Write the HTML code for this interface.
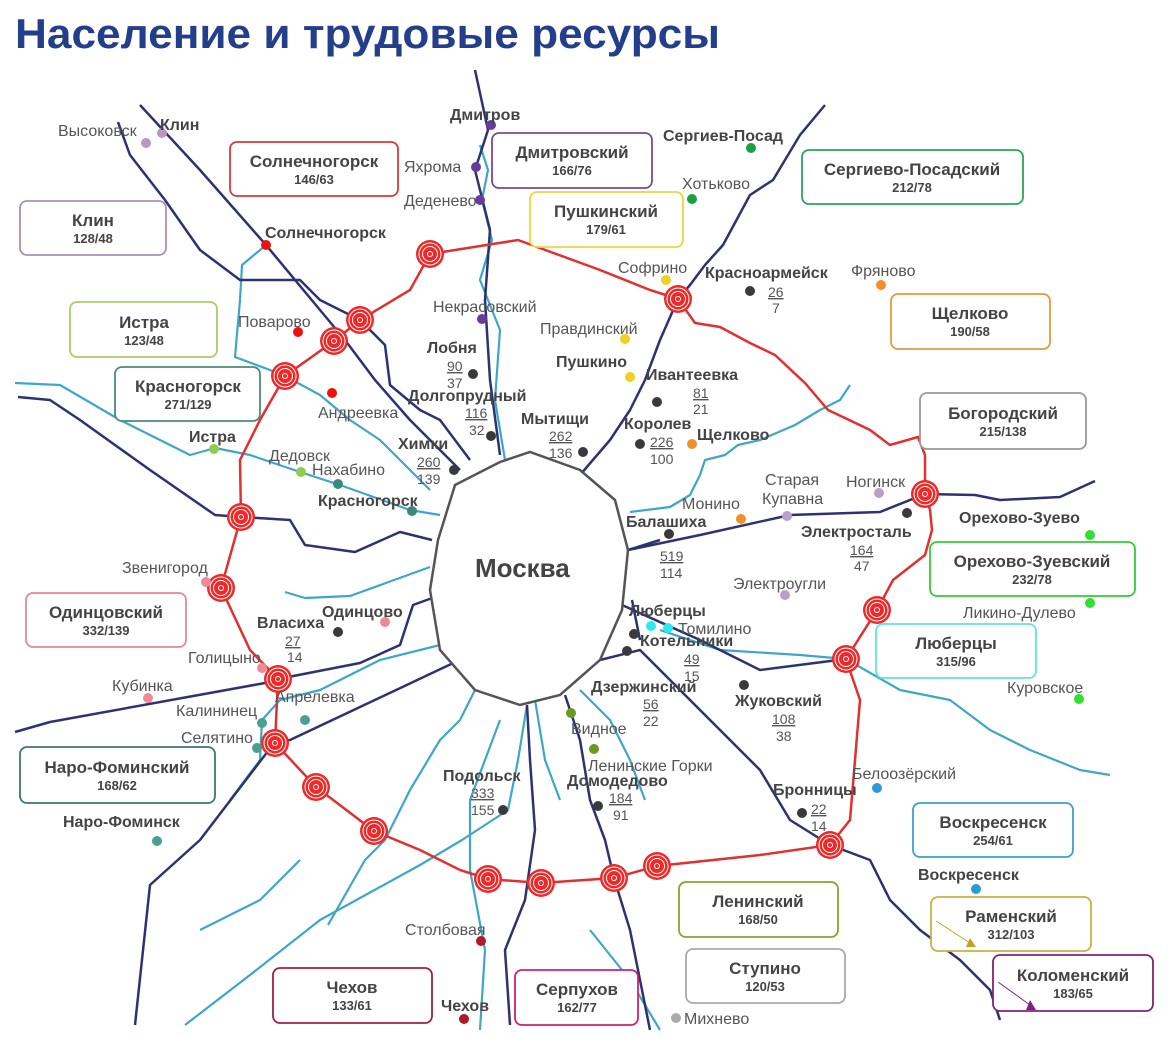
<!DOCTYPE html>
<html><head><meta charset="utf-8"><style>
html,body{margin:0;padding:0;background:#fff}
svg{display:block}
text{font-family:"Liberation Sans","DejaVu Sans",sans-serif}
.t{font-size:16px;fill:#555}
.b{font-size:16px;font-weight:bold;fill:#444}
.n{font-size:14px;fill:#555}
.bt{font-size:17px;font-weight:bold;fill:#444;text-anchor:middle}
.bn{font-size:13px;font-weight:bold;fill:#444;text-anchor:middle}
.r{fill:none;stroke:#2b3470;stroke-width:2.5;stroke-linejoin:round}
.w{fill:none;stroke:#3fa6c9;stroke-width:2.2;stroke-linejoin:round}
</style></head><body>
<svg width="1171" height="1038" viewBox="0 0 1171 1038" xmlns="http://www.w3.org/2000/svg">
<defs>
<g id="m"><circle r="14" fill="#f02828"/><circle r="11" fill="none" stroke="#fff" stroke-width="1"/><circle r="7.5" fill="none" stroke="#fff" stroke-width="1"/><circle r="3" fill="#fff"/><circle r="2" fill="#f02828"/></g>
</defs>
<text x="15" y="48" textLength="705" lengthAdjust="spacingAndGlyphs" style="font-size:42px;font-weight:bold;fill:#233f8b">Население и трудовые ресурсы</text>

<!-- rivers -->
<g class="w">
<path d="M480,145 L488,170 L482,200 L492,240 L480,280 L500,330 L495,400 L505,460"/>
<path d="M15,383 L60,385 L120,420 L190,455 L215,448 L250,455 L300,472 L340,485 L410,510 L440,515"/>
<path d="M266,245 L242,265 L240,300 L235,357 L270,370 L285,376 L320,395 L350,420 L380,440 L410,470 L430,490"/>
<path d="M285,592 L305,598 L350,596 L430,567"/>
<path d="M850,385 L840,400 L820,410 L795,425 L760,440 L738,445 L725,455 L705,460 L700,475 L690,495 L670,507 L630,512"/>
<path d="M660,630 L720,650 L800,655 L846,659 L900,690 L950,700 L990,730 L1030,750 L1080,770 L1110,775"/>
<path d="M580,690 L610,720 L630,760 L645,800"/>
<path d="M535,700 L545,760 L560,800"/>
<path d="M480,680 L460,720 L440,740 L410,790 L385,840 L365,860 L328,925"/>
<path d="M527,705 L518,760 L508,810 L462,840 L420,865 L320,920 L250,975 L185,1025"/>
<path d="M440,645 L380,660 L320,690 L280,700 L262,720 L260,760 L230,800"/>
<path d="M500,720 L470,800 L470,870 L485,950 L480,1030"/>
<path d="M590,930 L630,980 L660,1030"/>
<path d="M200,930 L260,900 L300,860"/>
</g>
<!-- rails -->
<g class="r">
<path d="M140,105 L200,170 L266,245 L320,310 L345,340 L375,380 L410,420 L440,450 L460,470"/>
<path d="M118,122 L130,155 L165,200 L200,250 L240,280 L300,280 L320,300 L360,320 L385,345 L390,385 L420,410 L440,420 L470,460"/>
<path d="M475,70 L488,130 L475,170 L490,230 L485,300 L490,380 L500,455"/>
<path d="M825,105 L800,135 L773,180 L750,195 L723,245 L705,265 L690,285 L678,299 L660,340 L645,380 L630,410 L610,440 L580,475"/>
<path d="M628,550 L700,535 L790,515 L880,512 L925,494 L975,495 L1000,500 L1060,497 L1095,481"/>
<path d="M622,605 L700,640 L760,670 L846,659"/>
<path d="M600,660 L640,650 L680,690 L720,730 L760,770 L790,820 L830,845 L870,860 L890,900 L920,930 L960,960 L990,990 L1000,1020"/>
<path d="M565,695 L580,740 L590,800 L605,840 L614,878 L630,930 L640,980 L650,1030"/>
<path d="M527,705 L530,760 L535,830 L525,900 L505,950 L510,1025"/>
<path d="M466,657 L290,740 L275,743 L265,755 L200,840 L150,885 L135,1025"/>
<path d="M15,732 L50,722 L265,683 L278,679 L360,663 L400,645 L413,605 L435,597"/>
<path d="M18,397 L50,400 L80,420 L150,470 L215,515 L241,517 L290,520 L305,545 L355,552 L400,532 L432,540"/>
<path d="M628,550 L660,540"/>
<path d="M640,640 L632,600"/>
</g>
<!-- ring -->
<path d="M430,254 L518,240 L600,270 L650,290 L678,299 L695,323 L720,327 L750,343 L775,355 L805,383 L828,410 L845,418 L870,430 L890,445 L918,437 L925,455 L925,494 L930,510 L932,530 L925,555 L893,580 L877,610 L846,659 L860,700 L855,760 L850,820 L830,845 L760,855 L657,866 L614,878 L541,883 L488,879 L460,870 L420,850 L374,831 L316,787 L275,743 L278,679 L250,650 L221,588 L241,517 L240,460 L260,420 L285,376 L334,341 L360,320 L410,290 Z" fill="none" stroke="#e03030" stroke-width="2.5"/>
<g>
<use href="#m" x="430" y="254"/><use href="#m" x="360" y="320"/><use href="#m" x="334" y="341"/><use href="#m" x="285" y="376"/>
<use href="#m" x="241" y="517"/><use href="#m" x="221" y="588"/><use href="#m" x="278" y="679"/><use href="#m" x="275" y="743"/>
<use href="#m" x="316" y="787"/><use href="#m" x="374" y="831"/><use href="#m" x="488" y="879"/><use href="#m" x="541" y="883"/>
<use href="#m" x="614" y="878"/><use href="#m" x="657" y="866"/><use href="#m" x="830" y="845"/><use href="#m" x="846" y="659"/>
<use href="#m" x="877" y="610"/><use href="#m" x="925" y="494"/><use href="#m" x="678" y="299"/>
</g>
<!-- Moscow -->
<path d="M500,462 L530,452 L580,470 L615,500 L628,550 L622,610 L600,660 L560,695 L520,705 L475,690 L440,650 L430,590 L438,540 L455,485 Z" fill="#fff" stroke="#555" stroke-width="2.5"/>
<text x="475" y="577" style="font-size:26px;font-weight:bold;fill:#444">Москва</text>

<!-- boxes -->
<g fill="#fff" stroke-width="1.8">
<rect x="230" y="142" width="168" height="54" rx="7" stroke="#d83a3a"/>
<rect x="20" y="201" width="146" height="54" rx="7" stroke="#a890b8"/>
<rect x="492" y="133" width="160" height="55" rx="7" stroke="#7b4a8c"/>
<rect x="530" y="192" width="153" height="55" rx="7" stroke="#e8d640"/>
<rect x="802" y="150" width="221" height="54" rx="7" stroke="#2aa55a"/>
<rect x="70" y="302" width="147" height="55" rx="7" stroke="#a8cc6c"/>
<rect x="115" y="367" width="145" height="54" rx="7" stroke="#4a8c7c"/>
<rect x="891" y="294" width="159" height="55" rx="7" stroke="#e39a3a"/>
<rect x="920" y="393" width="166" height="56" rx="7" stroke="#999"/>
<rect x="930" y="542" width="205" height="54" rx="7" stroke="#33cc33"/>
<rect x="26" y="593" width="160" height="54" rx="7" stroke="#e08a9a"/>
<rect x="876" y="624" width="160" height="54" rx="7" stroke="#66e0e8"/>
<rect x="20" y="747" width="195" height="56" rx="7" stroke="#3a7a6a"/>
<rect x="913" y="803" width="160" height="54" rx="7" stroke="#3aa0d0"/>
<rect x="679" y="882" width="159" height="55" rx="7" stroke="#8aa030"/>
<rect x="931" y="897" width="160" height="54" rx="7" stroke="#c8b040"/>
<rect x="686" y="949" width="159" height="54" rx="7" stroke="#aaa"/>
<rect x="993" y="955" width="160" height="56" rx="7" stroke="#802080"/>
<rect x="273" y="968" width="159" height="55" rx="7" stroke="#a02040"/>
<rect x="515" y="970" width="123" height="55" rx="7" stroke="#d02070"/>
</g>
<g>
<text class="bt" x="314" y="167">Солнечногорск</text><text class="bn" x="314" y="184">146/63</text>
<text class="bt" x="93" y="226">Клин</text><text class="bn" x="93" y="243">128/48</text>
<text class="bt" x="572" y="158">Дмитровский</text><text class="bn" x="572" y="175">166/76</text>
<text class="bt" x="606" y="217">Пушкинский</text><text class="bn" x="606" y="234">179/61</text>
<text class="bt" x="912" y="175">Сергиево-Посадский</text><text class="bn" x="912" y="192">212/78</text>
<text class="bt" x="144" y="328">Истра</text><text class="bn" x="144" y="345">123/48</text>
<text class="bt" x="188" y="392">Красногорск</text><text class="bn" x="188" y="409">271/129</text>
<text class="bt" x="970" y="319">Щелково</text><text class="bn" x="970" y="336">190/58</text>
<text class="bt" x="1003" y="419">Богородский</text><text class="bn" x="1003" y="436">215/138</text>
<text class="bt" x="1032" y="567">Орехово-Зуевский</text><text class="bn" x="1032" y="584">232/78</text>
<text class="bt" x="106" y="618">Одинцовский</text><text class="bn" x="106" y="635">332/139</text>
<text class="bt" x="956" y="649">Люберцы</text><text class="bn" x="956" y="666">315/96</text>
<text class="bt" x="117" y="773">Наро-Фоминский</text><text class="bn" x="117" y="790">168/62</text>
<text class="bt" x="993" y="828">Воскресенск</text><text class="bn" x="993" y="845">254/61</text>
<text class="bt" x="758" y="907">Ленинский</text><text class="bn" x="758" y="924">168/50</text>
<text class="bt" x="1011" y="922">Раменский</text><text class="bn" x="1011" y="939">312/103</text>
<text class="bt" x="765" y="974">Ступино</text><text class="bn" x="765" y="991">120/53</text>
<text class="bt" x="1073" y="981">Коломенский</text><text class="bn" x="1073" y="998">183/65</text>
<text class="bt" x="352" y="993">Чехов</text><text class="bn" x="352" y="1010">133/61</text>
<text class="bt" x="577" y="995">Серпухов</text><text class="bn" x="577" y="1012">162/77</text>
</g>
<line x1="936" y1="921" x2="970" y2="943" stroke="#c8a020" stroke-width="1"/><path d="M966,947 L976,947 L970,938 Z" fill="#c8a020"/>
<line x1="998" y1="982" x2="1030" y2="1005" stroke="#802080" stroke-width="1"/><path d="M1026,1010 L1036,1010 L1030,1000 Z" fill="#802080"/>

<!-- dots -->
<g>
<circle cx="146" cy="143" r="5" fill="#b898c0"/><circle cx="162" cy="133" r="5" fill="#b898c0"/>
<circle cx="491" cy="125" r="5" fill="#6a3a9a"/><circle cx="476" cy="167" r="5" fill="#6a3a9a"/><circle cx="480" cy="200" r="5" fill="#6a3a9a"/><circle cx="482" cy="319" r="5" fill="#6a3a9a"/>
<circle cx="751" cy="148" r="5" fill="#1aa040"/><circle cx="692" cy="199" r="5" fill="#1aa040"/>
<circle cx="666" cy="280" r="5" fill="#f0d020"/><circle cx="625" cy="339" r="5" fill="#f0d020"/><circle cx="630" cy="377" r="5" fill="#f0d020"/>
<circle cx="881" cy="285" r="5" fill="#f0902a"/><circle cx="692" cy="444" r="5" fill="#f0902a"/><circle cx="741" cy="519" r="5" fill="#f0902a"/>
<circle cx="266" cy="245" r="5" fill="#f01010"/><circle cx="298" cy="332" r="5" fill="#f01010"/><circle cx="332" cy="393" r="5" fill="#f01010"/>
<circle cx="214" cy="449" r="5" fill="#90cc50"/><circle cx="301" cy="472" r="5" fill="#90cc50"/>
<circle cx="338" cy="484" r="5" fill="#3a8a7a"/><circle cx="412" cy="511" r="5" fill="#3a8a7a"/>
<circle cx="305" cy="720" r="5" fill="#4aa090"/><circle cx="262" cy="723" r="5" fill="#4aa090"/><circle cx="257" cy="748" r="5" fill="#4aa090"/><circle cx="157" cy="841" r="5" fill="#4aa090"/>
<circle cx="206" cy="582" r="5" fill="#f08898"/><circle cx="262" cy="668" r="5" fill="#f08898"/><circle cx="148" cy="698" r="5" fill="#f08898"/><circle cx="385" cy="622" r="5" fill="#f08898"/>
<circle cx="787" cy="516" r="5" fill="#b8a0c8"/><circle cx="879" cy="493" r="5" fill="#b8a0c8"/><circle cx="785" cy="595" r="5" fill="#b8a0c8"/>
<circle cx="1090" cy="535" r="5" fill="#30e030"/><circle cx="1090" cy="603" r="5" fill="#30e030"/><circle cx="1079" cy="699" r="5" fill="#30e030"/>
<circle cx="651" cy="626" r="5" fill="#30e8f0"/><circle cx="668" cy="628" r="5" fill="#30e8f0"/>
<circle cx="571" cy="713" r="5" fill="#6a9a20"/><circle cx="594" cy="749" r="5" fill="#6a9a20"/>
<circle cx="877" cy="788" r="5" fill="#2a9ad8"/><circle cx="976" cy="889" r="5" fill="#2a9ad8"/>
<circle cx="481" cy="941" r="5" fill="#b01830"/><circle cx="464" cy="1019" r="5" fill="#b01830"/>
<circle cx="676" cy="1018" r="5" fill="#aaa"/>
<g fill="#3a3a3a">
<circle cx="473" cy="374" r="5"/><circle cx="491" cy="436" r="5"/><circle cx="454" cy="470" r="5"/><circle cx="583" cy="452" r="5"/>
<circle cx="640" cy="444" r="5"/><circle cx="657" cy="402" r="5"/><circle cx="750" cy="291" r="5"/><circle cx="669" cy="534" r="5"/>
<circle cx="634" cy="634" r="5"/><circle cx="627" cy="651" r="5"/><circle cx="744" cy="685" r="5"/><circle cx="802" cy="813" r="5"/>
<circle cx="503" cy="810" r="5"/><circle cx="598" cy="806" r="5"/><circle cx="338" cy="632" r="5"/><circle cx="907" cy="513" r="5"/>
</g>
</g>

<!-- labels -->
<g>
<text class="b" x="160" y="130">Клин</text>
<text class="t" x="58" y="136">Высоковск</text>
<text class="b" x="450" y="120">Дмитров</text>
<text class="t" x="404" y="172">Яхрома</text>
<text class="t" x="404" y="206">Деденево</text>
<text class="b" x="663" y="141">Сергиев-Посад</text>
<text class="t" x="682" y="189">Хотьково</text>
<text class="b" x="265" y="238">Солнечногорск</text>
<text class="t" x="618" y="273">Софрино</text>
<text class="b" x="705" y="278">Красноармейск</text>
<text class="t" x="851" y="276">Фряново</text>
<text class="n" x="768" y="297" text-decoration="underline">26</text><text class="n" x="772" y="313">7</text>
<text class="t" x="433" y="312">Некрасовский</text>
<text class="t" x="238" y="327">Поварово</text>
<text class="t" x="540" y="334">Правдинский</text>
<text class="b" x="427" y="353">Лобня</text>
<text class="n" x="447" y="371" text-decoration="underline">90</text><text class="n" x="447" y="388">37</text>
<text class="b" x="556" y="367">Пушкино</text>
<text class="b" x="646" y="380">Ивантеевка</text>
<text class="n" x="693" y="398" text-decoration="underline">81</text><text class="n" x="693" y="414">21</text>
<text class="b" x="408" y="401">Долгопрудный</text>
<text class="n" x="465" y="418" text-decoration="underline">116</text><text class="n" x="469" y="435">32</text>
<text class="t" x="318" y="418">Андреевка</text>
<text class="b" x="521" y="424">Мытищи</text>
<text class="n" x="549" y="441" text-decoration="underline">262</text><text class="n" x="549" y="458">136</text>
<text class="b" x="624" y="429">Королев</text>
<text class="n" x="650" y="447" text-decoration="underline">226</text><text class="n" x="650" y="464">100</text>
<text class="b" x="697" y="440">Щелково</text>
<text class="b" x="189" y="442">Истра</text>
<text class="b" x="398" y="449">Химки</text>
<text class="n" x="417" y="467" text-decoration="underline">260</text><text class="n" x="417" y="484">139</text>
<text class="t" x="269" y="461">Дедовск</text>
<text class="t" x="312" y="475">Нахабино</text>
<text class="t" x="765" y="485">Старая</text><text class="t" x="762" y="504">Купавна</text>
<text class="t" x="846" y="487">Ногинск</text>
<text class="b" x="318" y="506">Красногорск</text>
<text class="t" x="682" y="509">Монино</text>
<text class="b" x="959" y="523">Орехово-Зуево</text>
<text class="b" x="626" y="527">Балашиха</text>
<text class="b" x="801" y="537">Электросталь</text>
<text class="n" x="850" y="555" text-decoration="underline">164</text><text class="n" x="854" y="571">47</text>
<text class="n" x="660" y="561" text-decoration="underline">519</text><text class="n" x="660" y="578">114</text>
<text class="t" x="122" y="573">Звенигород</text>
<text class="t" x="733" y="589">Электроугли</text>
<text class="b" x="629" y="616">Люберцы</text>
<text class="b" x="322" y="617">Одинцово</text>
<text class="t" x="963" y="618">Ликино-Дулево</text>
<text class="b" x="257" y="628">Власиха</text>
<text class="t" x="678" y="634">Томилино</text>
<text class="n" x="285" y="646" text-decoration="underline">27</text><text class="n" x="287" y="662">14</text>
<text class="b" x="640" y="646">Котельники</text>
<text class="t" x="188" y="663">Голицыно</text>
<text class="n" x="684" y="664" text-decoration="underline">49</text><text class="n" x="684" y="681">15</text>
<text class="b" x="591" y="692">Дзержинский</text>
<text class="t" x="112" y="691">Кубинка</text>
<text class="t" x="1007" y="693">Куровское</text>
<text class="t" x="275" y="702">Апрелевка</text>
<text class="b" x="735" y="706">Жуковский</text>
<text class="n" x="643" y="709" text-decoration="underline">56</text><text class="n" x="643" y="726">22</text>
<text class="t" x="176" y="716">Калининец</text>
<text class="n" x="772" y="724" text-decoration="underline">108</text><text class="n" x="776" y="741">38</text>
<text class="t" x="571" y="734">Видное</text>
<text class="t" x="181" y="743">Селятино</text>
<text class="t" x="588" y="771">Ленинские Горки</text>
<text class="t" x="852" y="779">Белоозёрский</text>
<text class="b" x="443" y="781">Подольск</text>
<text class="b" x="567" y="786">Домодедово</text>
<text class="b" x="773" y="795">Бронницы</text>
<text class="n" x="471" y="798" text-decoration="underline">333</text><text class="n" x="471" y="815">155</text>
<text class="n" x="609" y="803" text-decoration="underline">184</text><text class="n" x="613" y="820">91</text>
<text class="n" x="811" y="814" text-decoration="underline">22</text><text class="n" x="811" y="831">14</text>
<text class="b" x="63" y="827">Наро-Фоминск</text>
<text class="b" x="918" y="880">Воскресенск</text>
<text class="t" x="405" y="935">Столбовая</text>
<text class="b" x="441" y="1011">Чехов</text>
<text class="t" x="684" y="1024">Михнево</text>
</g>
</svg>
</body></html>
